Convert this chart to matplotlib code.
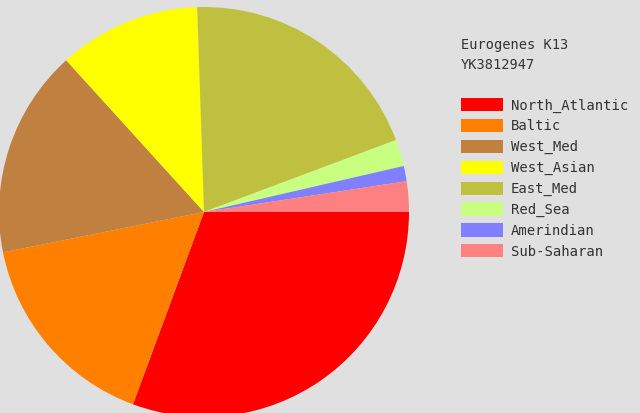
import matplotlib
matplotlib.use("Agg")
import matplotlib.pyplot as plt

# ------------------- data -------------------
labels = ["North_Atlantic", "Baltic", "West_Med", "West_Asian",
          "East_Med", "Red_Sea", "Amerindian", "Sub-Saharan"]
values = [30.6, 16.2, 16.4, 11.2, 19.8, 2.1, 1.2, 2.4]
colors = ["#FF0000", "#FF8000", "#C08040", "#FFFF00",
          "#C0C040", "#C8FF80", "#8080FF", "#FF8080"]
title_lines = ["Eurogenes K13", "YK3812947"]

BG = "#E0E0E0"
W, H = 640, 413

fig = plt.figure(figsize=(W / 100, H / 100), dpi=100, facecolor=BG)
ax = fig.add_axes([0, 0, 1, 1])
ax.set_facecolor(BG)

wedges, _ = ax.pie(values, colors=colors, startangle=0, counterclock=False,
                   center=(204, H - 212), radius=205,
                   wedgeprops=dict(linewidth=0), frame=True)
ax.set_xlim(0, W)
ax.set_ylim(0, H)
ax.set_aspect("equal")
ax.axis("off")

mono = "DejaVu Sans Mono"
for i, t in enumerate(title_lines):
    fig.text(461 / W, 1 - (45 + 20 * i) / H, t, fontsize=9.8, family=mono,
             color="#333333", ha="left", va="center")

fig.legend(wedges, labels, loc="upper left",
           bbox_to_anchor=(461 / W, 1 - 98 / H), bbox_transform=fig.transFigure,
           frameon=False, prop=dict(family=mono, size=10),
           handlelength=3.0, handleheight=1.1, labelspacing=0.46,
           handletextpad=0.6, borderpad=0, borderaxespad=0, labelcolor="#333333")

plt.savefig("out.png", dpi=100, facecolor=BG)
